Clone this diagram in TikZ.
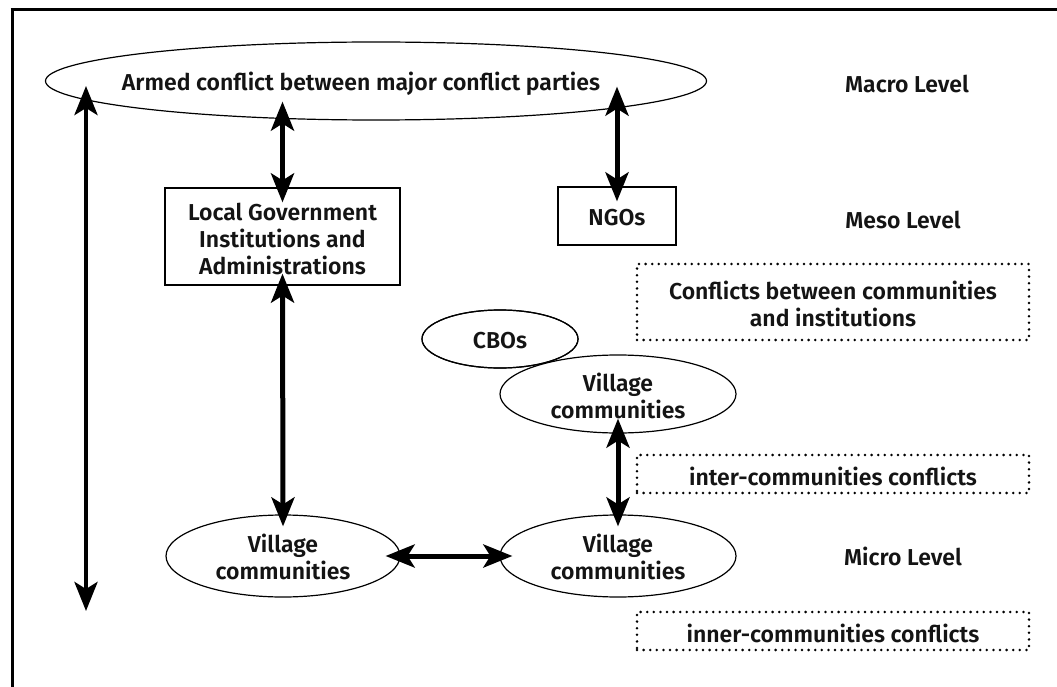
\documentclass[tikz,border=0pt]{standalone}
\usepackage{fontspec}
\IfFontExistsTF{Fira Sans SemiBold}{\setmainfont{Fira Sans SemiBold}}{%
  \IfFontExistsTF{Fira Sans Medium}{\setmainfont{Fira Sans Medium}}{\setmainfont{Fira Sans}[FakeBold=1.2]}}
\usetikzlibrary{shapes.geometric,arrows.meta}
\begin{document}
\begin{tikzpicture}[x=1pt,y=-1pt,
  txt/.style={font=\fontsize{23}{27}\selectfont, align=center, inner sep=0pt, text=black!92},
  oval/.style={ellipse, draw, line width=1.2pt, inner sep=0pt},
  rbox/.style={rectangle, draw, line width=1.2pt, inner sep=0pt},
  dotbox/.style={rectangle, draw, line width=2.8pt, dash pattern=on 0pt off 6.6pt, line cap=round, inner sep=0pt},
  arr/.style={line width=5pt, {Stealth[length=29pt,width=23pt,inset=7pt]}-{Stealth[length=29pt,width=23pt,inset=7pt]}},
  arrthin/.style={line width=4.6pt, {Stealth[length=29pt,width=23pt,inset=7pt]}-{Stealth[length=29pt,width=23pt,inset=7pt]}}]
\useasboundingbox (0,0) rectangle (1057,687);
\fill[white] (0,0) rectangle (1057,687);
% frame
\draw[line width=3pt] (12,687) -- (12,9.5);
\draw[line width=2.4pt] (10.5,9.5) -- (1057,9.5);

% shapes
\node[oval, minimum width=661pt, minimum height=78pt] (armed) at (376,81) {};
\node[txt] (armedtxt) at (361,84) {Armed conflict between major conflict parties};
\node[txt] (macro) at (907,84) {Macro Level};

\node[rbox, minimum width=235pt, minimum height=97pt] (lgi) at (282.5,236.5) {};
\node[txt] (lgitxt) at (282.5,239) {Local Government\\Institutions and\\Administrations};
\node[rbox, minimum width=118pt, minimum height=58pt] (ngos) at (617,216) {};
\node[txt] (ngostxt) at (617,218) {NGOs};
\node[txt] (meso) at (903,220) {Meso Level};

\node[dotbox, minimum width=392pt, minimum height=76pt] (cbi) at (833,302) {};
\node[txt] (cbitxt) at (833,304) {Conflicts between communities\\and institutions};

\node[oval, minimum width=156pt, minimum height=58pt] (cbos) at (500,339) {};
\node[txt] (cbostxt) at (500,341) {CBOs};
\node[oval, minimum width=236pt, minimum height=78pt, fill=white] (vup) at (618,394) {};
\node[txt] (vuptxt) at (618,396) {Village\\communities};

\node[dotbox, minimum width=392pt, minimum height=38pt] (inter) at (833,474) {};
\node[txt] (intertxt) at (833,476) {inter-communities conflicts};

\node[oval, minimum width=234pt, minimum height=82pt] (vl) at (283,556) {};
\node[txt] (vltxt) at (283,557) {Village\\communities};
\node[oval, minimum width=236pt, minimum height=82pt] (vr) at (618,556) {};
\node[txt] (vrtxt) at (618,557) {Village\\communities};
\node[txt] (micro) at (903,556) {Micro Level};

\node[dotbox, minimum width=392pt, minimum height=38pt] (inner) at (833,631) {};
\node[txt] (innertxt) at (833,633) {inner-communities conflicts};

% redraw CBOs outline over village ellipse fill
\draw[line width=1.2pt] (cbos.center) ellipse [x radius=78pt, y radius=29pt];

% connectors
\coordinate (lt) at (86,86);
\coordinate (lb) at (86,611);
\draw[arrthin] (lt) -- (lb);
\draw[arr, shorten <=-19pt, shorten >=-15pt] (armed.south -| lgi.north) -- (lgi.north);
\draw[arr, shorten <=-34pt, shorten >=-15pt] (armed.south -| ngos.north) -- (ngos.north);
\draw[arr, shorten <=-12pt, shorten >=-12pt] (lgi.south) -- (vl.north);
\draw[arr, shorten <=-15pt, shorten >=-12pt] (vup.south) -- (vr.north);
\draw[arr, shorten <=-15pt, shorten >=-13pt] (vl.east) -- (vr.west);
\end{tikzpicture}
\end{document}
